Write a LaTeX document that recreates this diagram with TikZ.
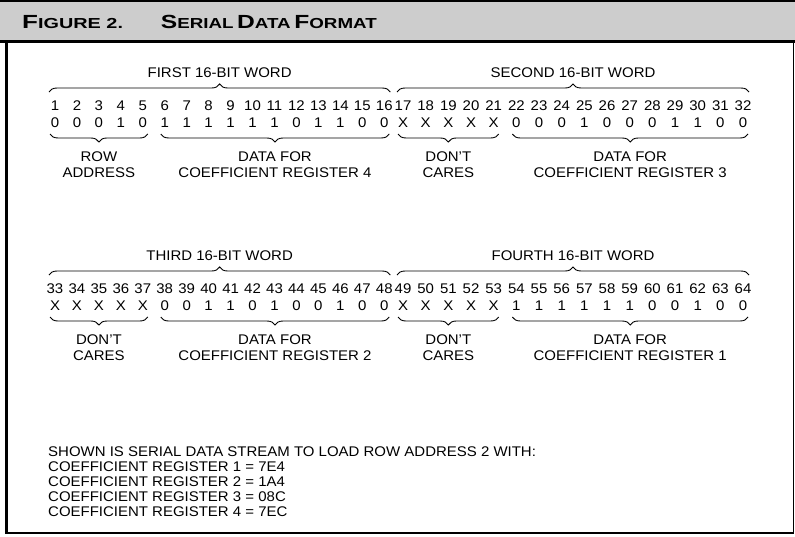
\documentclass[tikz,border=0pt]{standalone}
\usepackage{fontspec}
\setmainfont{Liberation Sans}[FakeStretch=1.07]
\usetikzlibrary{decorations.pathreplacing,calc}
\definecolor{bandgray}{RGB}{205,205,205}
% large initial capital followed by small capitals
\newcommand\capsc[2]{{\fontsize{19}{20}\selectfont #1}{\fontsize{14.5}{16}\selectfont #2}}

\begin{document}
\begin{tikzpicture}[x=1pt,y=-1pt,
  txt/.style={font=\fontsize{14}{16}\selectfont, inner sep=0pt},
  num/.style={txt, anchor=base},
  label/.style={txt, align=center, anchor=north},
  titletext/.style={inner sep=0pt, anchor=base west},
  bracefig/.style={decorate, decoration={brace, amplitude=8pt}, line width=0.9pt},
  frame/.style={line width=2.5pt},
]
\useasboundingbox (0,0) rectangle (795,536);

% heading band
\fill[bandgray] (0,0) rectangle (795,41);
\draw[line width=1.5pt] (0,1) -- (795,1);
\draw[line width=3pt] (0,41) -- (795,41);
\node[titletext] (fig) at (22,28) {\scalebox{1.28}[1]{\bfseries\capsc{F}{IGURE 2.}}};
\node[titletext, anchor=base east] (ttl) at (377,28) {\scalebox{1.21}[1]{\bfseries\capsc{S}{ERIAL} \capsc{D}{ATA} \capsc{F}{ORMAT}}};

% outer frame
\draw[frame] (6.5,41) -- (6.5,533) -- (794,533);
\draw[line width=1.5pt] (793.5,41) -- (793.5,533);

% the four 16-bit words
\foreach \w/\xo/\pit/\yb/\first/\bits/\head/\lefttxt/\righttxt in {
  A/55/21.95/110/1/{0,0,0,1,0,1,1,1,1,1,1,0,1,1,0,0}/{FIRST 16-BIT WORD}/{ROW\\ADDRESS}/{DATA FOR\\COEFFICIENT REGISTER 4},
  B/403/22.67/110/17/{X,X,X,X,X,0,0,0,1,0,0,0,1,1,0,0}/{SECOND 16-BIT WORD}/{DON'T\\CARES}/{DATA FOR\\COEFFICIENT REGISTER 3},
  C/55/21.95/293/33/{X,X,X,X,X,0,0,1,1,0,1,0,0,1,0,0}/{THIRD 16-BIT WORD}/{DON'T\\CARES}/{DATA FOR\\COEFFICIENT REGISTER 2},
  D/403/22.67/293/49/{X,X,X,X,X,1,1,1,1,1,1,0,0,1,0,0}/{FOURTH 16-BIT WORD}/{DON'T\\CARES}/{DATA FOR\\COEFFICIENT REGISTER 1}}{
  \foreach \b [count=\k from 0] in \bits {
    \pgfmathsetmacro\xx{\xo+\pit*\k}
    \pgfmathtruncatemacro\nn{\first+\k}
    \node[num] (\w-n\k) at (\xx,\yb) {\nn};
    \node[num] (\w-b\k) at (\xx,\yb+17) {\b};
  }
  % brace over the whole word and its heading
  \coordinate (\w-tl) at ($(\w-n0.base)+(-6,-18)$);
  \coordinate (\w-tr) at ($(\w-n15.base)+(6,-18)$);
  \draw[bracefig] (\w-tl) -- (\w-tr);
  \node[num] (\w-head) at ($(\w-tl)!0.5!(\w-tr)+(0,-15)$) {\head};
  % braces under the two fields
  \coordinate (\w-al) at ($(\w-b0.base)+(-5,7)$);
  \coordinate (\w-ar) at ($(\w-b4.base)+(5,7)$);
  \coordinate (\w-dl) at ($(\w-b5.base)+(-4,7)$);
  \coordinate (\w-dr) at ($(\w-b15.base)+(5,7)$);
  \draw[bracefig] (\w-ar) -- (\w-al);
  \draw[bracefig] (\w-dr) -- (\w-dl);
  \node[label] (\w-lab1) at ($(\w-al)!0.5!(\w-ar)+(0,18)$) {\lefttxt};
  \node[label] (\w-lab2) at ($(\w-dl)!0.5!(\w-dr)+(0,18)$) {\righttxt};
}

% explanatory note
\node[txt, align=left, anchor=north west, font=\fontsize{14}{14.8}\selectfont] (note) at (48,447) {%
SHOWN IS SERIAL DATA STREAM TO LOAD ROW ADDRESS 2 WITH:\\
COEFFICIENT REGISTER 1 = 7E4\\
COEFFICIENT REGISTER 2 = 1A4\\
COEFFICIENT REGISTER 3 = 08C\\
COEFFICIENT REGISTER 4 = 7EC};
\end{tikzpicture}
\end{document}
